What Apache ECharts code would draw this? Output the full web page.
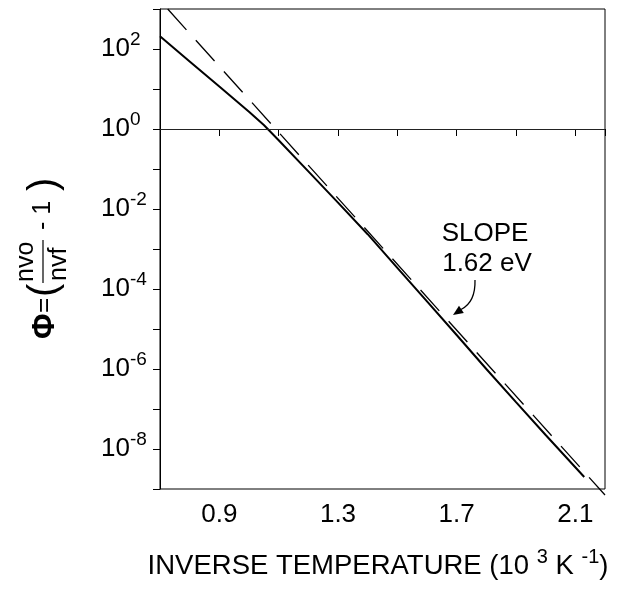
<!DOCTYPE html>
<html><head><meta charset="utf-8">
<script src="https://cdn.jsdelivr.net/npm/echarts@6/dist/echarts.min.js"></script>
<style>html,body{margin:0;padding:0;background:#fff}#c{width:618px;height:591px}</style>
</head><body><div id="c"></div>
<script>
// ---- data ----
const xMin = 0.7, xMax = 2.2, xStep = 0.2;
const xTickLabels = ['0.9', '1.3', '1.7', '2.1'];
const yExpMin = -9, yExpMax = 3;           // log10(Φ) axis range
const yLabelExponents = [2, 0, -2, -4, -6, -8];
// solid curve: inverse temperature (10^3/K) and log10(Φ)
const solidX      = [0.70, 0.80, 0.90, 1.00, 1.05, 1.10, 1.20, 1.30, 1.40, 1.50, 1.60, 1.70, 1.80, 1.90, 2.00, 2.13];
const solidLogPhi = [2.32, 1.69, 1.06, 0.43, 0.10, -0.28, -1.06, -1.84, -2.63, -3.47, -4.31, -5.15, -6.00, -6.83, -7.65, -8.70];
// dashed straight line (slope 1.62 eV)
const dashedX      = [0.726, 2.2];
const dashedLogPhi = [3.0, -9.15];
const unityLogPhi = 0;   // horizontal reference line Φ = 1
const slopeText = ['SLOPE', '1.62 eV'];

const FONT = '"Liberation Sans", Arial, Helvetica, sans-serif';
const chart = echarts.init(document.getElementById('c'), null, {renderer: 'canvas'});

const zip = (xs, ys) => xs.map((x, i) => [x, ys[i]]);

const option = {
  animation: false,
  backgroundColor: '#fff',
  grid: {left: 160, right: 13, top: 9, bottom: 102, show: true, borderColor: '#000', borderWidth: 1, containLabel: false},
  xAxis: {
    type: 'value', min: xMin, max: xMax, interval: xStep,
    axisLine: {show: true, lineStyle: {color: '#000', width: 1}},
    axisTick: {show: true, inside: false, length: 7, lineStyle: {color: '#000', width: 1}},
    splitLine: {show: false},
    axisLabel: {
      margin: 13, color: '#000', fontFamily: FONT, fontSize: 26,
      formatter: v => { const s = (Math.round(v * 10) / 10).toFixed(1); return xTickLabels.includes(s) ? s : ''; }
    }
  },
  yAxis: {
    type: 'value', min: yExpMin, max: yExpMax, interval: 1,
    axisLine: {show: true, lineStyle: {color: '#000', width: 1}},
    axisTick: {show: true, inside: false, length: 7, lineStyle: {color: '#000', width: 1}},
    splitLine: {show: false},
    axisLabel: {
      margin: 59, align: 'left', color: '#000', fontFamily: FONT,
      formatter: v => { const e = Math.round(v); return yLabelExponents.includes(e) ? '{b|10}{s|' + e + '}' : ''; },
      rich: {
        b: {fontSize: 26, fontFamily: FONT, color: '#000'},
        s: {fontSize: 19, fontFamily: FONT, color: '#000', padding: [0, 0, 18, 0]}
      }
    }
  },
  series: [
    {
      type: 'line', data: zip(solidX, solidLogPhi), showSymbol: false, symbol: 'none',
      lineStyle: {color: '#000', width: 2}, z: 3,
      markLine: {
        silent: true, symbol: ['none', 'none'], label: {show: false},
        lineStyle: {color: '#222', width: 1, type: 'solid'},
        data: [{yAxis: unityLogPhi}]
      }
    },
    {
      type: 'line', data: zip(dashedX, dashedLogPhi), showSymbol: false, symbol: 'none', clip: false,
      lineStyle: {color: '#000', width: 1.3, type: [28, 14]}, z: 2
    }
  ],
  graphic: [
    // y-axis title, rotated to read bottom-to-top
    {
      type: 'group', x: 43, y: 339, rotation: Math.PI / 2,
      children: [
        {type: 'text', x: 0, y: 2, style: {text: 'Φ', font: 'bold 31px ' + FONT, fill: '#000', align: 'left', verticalAlign: 'middle'}},
        {type: 'text', x: 26, y: 2, style: {text: '=', font: '26px ' + FONT, fill: '#000', align: 'left', verticalAlign: 'middle'}},
        {type: 'text', x: 42, y: 2, style: {text: '(', font: '40px ' + FONT, fill: '#000', align: 'left', verticalAlign: 'middle'}},
        {type: 'text', x: 57, y: -17, style: {text: 'nvo', font: '25px ' + FONT, fill: '#000', align: 'left', verticalAlign: 'middle'}},
        {type: 'line', shape: {x1: 56, y1: 0, x2: 99, y2: 0}, style: {stroke: '#000', lineWidth: 1.2}},
        {type: 'text', x: 58, y: 16, style: {text: 'nvf', font: '25px ' + FONT, fill: '#000', align: 'left', verticalAlign: 'middle'}},
        {type: 'text', x: 109, y: 0, style: {text: '- 1', font: '25px ' + FONT, fill: '#000', align: 'left', verticalAlign: 'middle'}},
        {type: 'text', x: 148, y: 2, style: {text: ')', font: '40px ' + FONT, fill: '#000', align: 'left', verticalAlign: 'middle'}}
      ]
    },
    // x-axis title
    {
      type: 'text', x: 378, y: 566,
      style: {
        text: '{n|INVERSE TEMPERATURE (10 }{s|3}{n| K }{s|-1}{n|)}',
        align: 'center', verticalAlign: 'middle', fill: '#000',
        rich: {
          n: {fontSize: 27.5, fontFamily: FONT, fill: '#000'},
          s: {fontSize: 20, fontFamily: FONT, fill: '#000', padding: [0, 0, 17, 0]}
        }
      }
    },
    // slope annotation
    {type: 'text', x: 485, y: 234, style: {text: slopeText[0], font: '26px ' + FONT, fill: '#000', align: 'center', verticalAlign: 'middle'}},
    {type: 'text', x: 487, y: 264, style: {text: slopeText[1], font: '26px ' + FONT, fill: '#000', align: 'center', verticalAlign: 'middle'}},
    {type: 'bezierCurve', shape: {x1: 475, y1: 280, cpx1: 475.5, cpy1: 297, cpx2: 470, cpy2: 305, x2: 461, y2: 309.5}, style: {stroke: '#000', lineWidth: 1.3, fill: null}},
    {type: 'polygon', shape: {points: [[453, 315], [463.8, 313], [459, 305.8]]}, style: {fill: '#000'}}
  ]
};
chart.setOption(option);
</script>
</body></html>
